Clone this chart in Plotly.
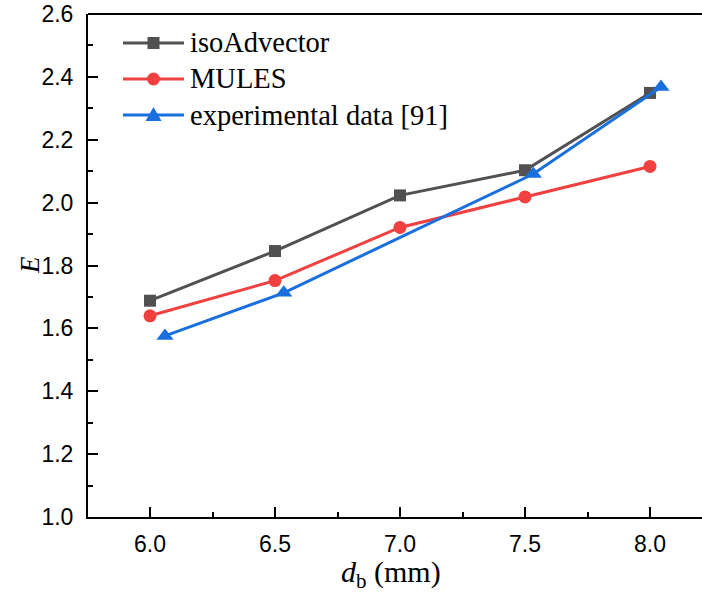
import plotly.graph_objects as go

# ---- data ----
iso_x = [6.0, 6.5, 7.0, 7.5, 8.0]
iso_y = [1.688, 1.846, 2.023, 2.103, 2.349]
mules_x = [6.0, 6.5, 7.0, 7.5, 8.0]
mules_y = [1.640, 1.752, 1.921, 2.018, 2.115]
exp_x = [6.06, 6.535, 7.533, 8.044]
exp_y = [1.576, 1.713, 2.091, 2.368]
series_names = ["isoAdvector", "MULES", "experimental data [91]"]
x_ticks = [6.0, 6.5, 7.0, 7.5, 8.0]
y_ticks = [1.0, 1.2, 1.4, 1.6, 1.8, 2.0, 2.2, 2.4, 2.6]

GRAY = "#515151"
RED = "#F14040"
BLUE = "#1A6FDF"

W, H = 702, 595
ML, MR, MT, MB = 88, 0, 14, 78
PW, PH = W - ML - MR, H - MT - MB


def px2paper(px, py):
    return (px - ML) / PW, (H - MB - py) / PH


fig = go.Figure()
fig.add_trace(go.Scatter(x=iso_x, y=iso_y, mode="lines+markers", name=series_names[0],
                         line=dict(color=GRAY, width=3),
                         marker=dict(symbol="square", size=12, color=GRAY), cliponaxis=False))
fig.add_trace(go.Scatter(x=mules_x, y=mules_y, mode="lines+markers", name=series_names[1],
                         line=dict(color=RED, width=3),
                         marker=dict(symbol="circle", size=13, color=RED), cliponaxis=False))
fig.add_trace(go.Scatter(x=exp_x, y=exp_y, mode="lines+markers", name=series_names[2],
                         line=dict(color=BLUE, width=3),
                         marker=dict(symbol="triangle-up", size=15, color=BLUE), cliponaxis=False))

shapes = []
annotations = []
# top frame line
shapes.append(dict(type="line", xref="paper", yref="paper", x0=0, x1=1, y0=1, y1=1,
                   line=dict(color="black", width=2)))

# custom legend
leg_rows = [43, 79, 115]
leg_colors = [GRAY, RED, BLUE]
for i, (py, col, name) in enumerate(zip(leg_rows, leg_colors, series_names)):
    x0, y0 = px2paper(123, py)
    x1, _ = px2paper(184, py)
    shapes.append(dict(type="line", xref="paper", yref="paper", x0=x0, x1=x1, y0=y0, y1=y0,
                       line=dict(color=col, width=3)))
    cx, cy = 153.5, py
    if i == 0:
        a0, b0 = px2paper(cx - 6, cy + 6)
        a1, b1 = px2paper(cx + 6, cy - 6)
        shapes.append(dict(type="rect", xref="paper", yref="paper", x0=a0, x1=a1, y0=b0, y1=b1,
                           fillcolor=col, line=dict(width=0)))
    elif i == 1:
        a0, b0 = px2paper(cx - 6.5, cy + 6.5)
        a1, b1 = px2paper(cx + 6.5, cy - 6.5)
        shapes.append(dict(type="circle", xref="paper", yref="paper", x0=a0, x1=a1, y0=b0, y1=b1,
                           fillcolor=col, line=dict(width=0)))
    else:
        p1 = px2paper(cx - 8, cy + 6)
        p2 = px2paper(cx + 8, cy + 6)
        p3 = px2paper(cx, cy - 8)
        path = f"M {p1[0]},{p1[1]} L {p2[0]},{p2[1]} L {p3[0]},{p3[1]} Z"
        shapes.append(dict(type="path", xref="paper", yref="paper", path=path,
                           fillcolor=col, line=dict(width=0)))
    tx, ty = px2paper(188, py)
    annotations.append(dict(xref="paper", yref="paper", x=tx, y=ty, text=name, showarrow=False,
                            xanchor="left", yanchor="middle",
                            font=dict(family="Liberation Serif", size=28.5, color="black")))

# axis titles
ax, ay = px2paper(391, 574)
annotations.append(dict(xref="paper", yref="paper", x=ax, y=ay,
                        text="<i>d</i><sub>b</sub> (mm)", showarrow=False,
                        xanchor="center", yanchor="middle",
                        font=dict(family="Liberation Serif", size=30, color="black")))
bx, by = px2paper(30, 265)
annotations.append(dict(xref="paper", yref="paper", x=bx, y=by, text="<i>E</i>", showarrow=False,
                        textangle=-90, xanchor="center", yanchor="middle",
                        font=dict(family="Liberation Serif", size=27, color="black")))

fig.update_layout(
    width=W, height=H,
    margin=dict(l=ML, r=MR, t=MT, b=MB, pad=0),
    paper_bgcolor="white", plot_bgcolor="white",
    showlegend=False,
    shapes=shapes, annotations=annotations,
    xaxis=dict(range=[5.752, 8.208], tickvals=x_ticks, ticktext=[f"{v:.1f}" for v in x_ticks],
               ticks="inside", ticklen=10, tickwidth=2, tickcolor="black",
               showline=True, linecolor="black", linewidth=2, showgrid=False, zeroline=False,
               ticklabelstandoff=5,
               minor=dict(ticks="inside", ticklen=5, tickwidth=2, tickcolor="black",
                          dtick=0.25, tick0=5.75, showgrid=False),
               tickfont=dict(family="Arial, Liberation Sans", size=23, color="black")),
    yaxis=dict(range=[1.0, 2.6], tickvals=y_ticks, ticktext=[f"{v:.1f}" for v in y_ticks],
               ticks="inside", ticklen=10, tickwidth=2, tickcolor="black",
               showline=True, linecolor="black", linewidth=2, showgrid=False, zeroline=False,
               ticklabelstandoff=8,
               minor=dict(ticks="inside", ticklen=5, tickwidth=2, tickcolor="black",
                          dtick=0.1, tick0=1.0, showgrid=False),
               tickfont=dict(family="Arial, Liberation Sans", size=23, color="black")),
)

fig.write_html("out.html")
